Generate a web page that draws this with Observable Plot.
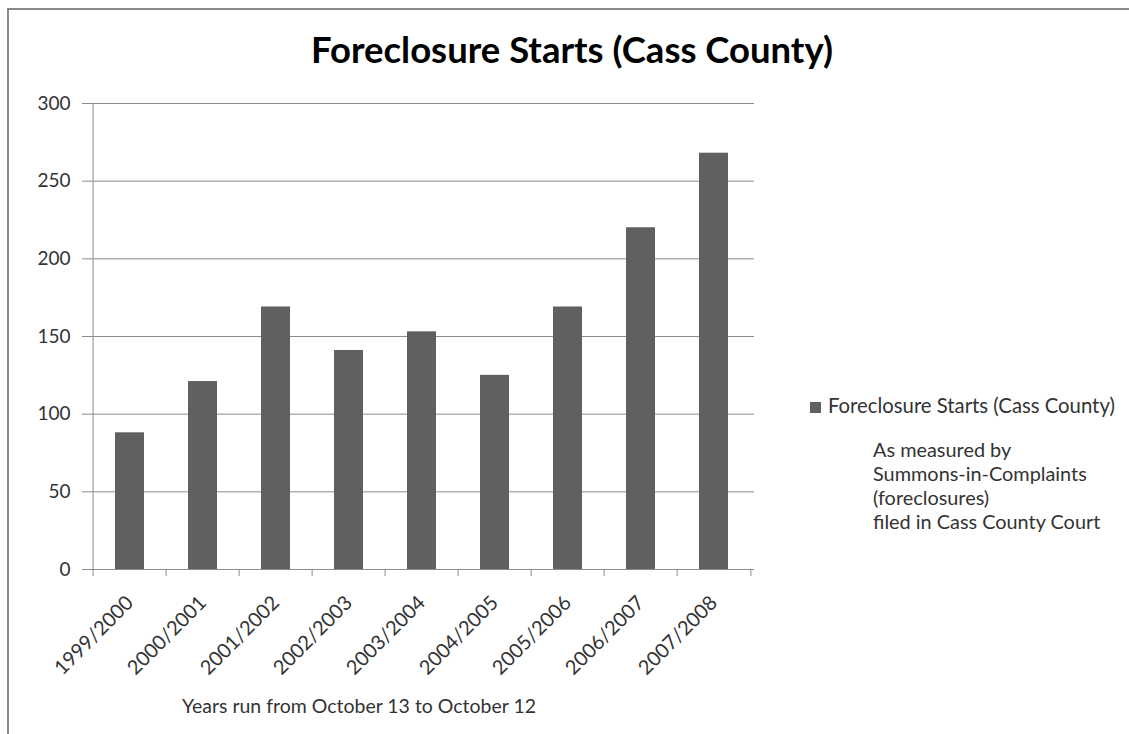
<!DOCTYPE html>
<html>
<head>
<meta charset="utf-8">
<script src="https://cdn.jsdelivr.net/npm/d3@7"></script>
<script src="https://cdn.jsdelivr.net/npm/@observablehq/plot@0.6"></script>
<style>
  html, body { margin: 0; padding: 0; background: #fff; }
  #wrap { position: relative; width: 1129px; height: 734px; overflow: hidden; background: #fff; }
  #border { position: absolute; left: 7px; top: 8px; width: 1300px; height: 900px;
            border-top: 2px solid #8a8a8a; border-left: 2px solid #8a8a8a; box-sizing: border-box; z-index: 3; pointer-events: none; }
  #plot { position: absolute; left: 0; top: 0; z-index: 1; }
  #overlay { position: absolute; left: 0; top: 0; z-index: 2; }
</style>
</head>
<body>
<div id="wrap">
  <div id="plot"></div>
  <svg id="overlay" width="1129" height="734"></svg>
  <div id="border"></div>
</div>
<script>
// ---- data ----
const years = ["1999/2000", "2000/2001", "2001/2002", "2002/2003", "2003/2004",
               "2004/2005", "2005/2006", "2006/2007", "2007/2008"];
const starts = [88, 121, 169, 141, 153, 125, 169, 220, 268];
const yTicks = [0, 50, 100, 150, 200, 250, 300];
const titleText = "Foreclosure Starts (Cass County)";
const legendLabel = "Foreclosure Starts (Cass County)";
const noteLines = ["As measured by", "Summons-in-Complaints", "(foreclosures)", "filed in Cass County Court"];
const captionText = "Years run from October 13 to October 12";

const data = years.map((year, i) => ({year, value: starts[i]}));

// ---- layout ----
const W = 1129, H = 734;
const mL = 90, mR = 375, mT = 103, mB = 165;
const step = (W - mL - mR) / years.length;
const FONT = "Lato, 'Open Sans', sans-serif";
const barColor = "#606060";
const lineColor = "#8c8c8c";
const textColor = "#333";

const chart = Plot.plot({
  width: W, height: H,
  marginLeft: mL, marginRight: mR, marginTop: mT, marginBottom: mB,
  style: {background: "transparent", fontFamily: FONT, overflow: "visible", color: textColor},
  x: {domain: years, paddingInner: 0.6, paddingOuter: 0.3, label: null},
  y: {domain: [0, 300], label: null},
  marks: [
    Plot.gridY(yTicks, {stroke: lineColor, strokeOpacity: 1}),
    Plot.barY(data, {x: "year", y: "value", fill: barColor}),
    Plot.ruleY([0], {stroke: lineColor}),
    Plot.ruleX([years[0]], {y1: 0, y2: 300, dx: -step / 2, stroke: lineColor}),
    Plot.axisY({ticks: yTicks, tickSize: 8, tickPadding: 12, fontSize: 19, stroke: lineColor, fill: textColor, label: null}),
    Plot.axisX({ticks: years, tickSize: 7, dx: -step / 2, text: null, stroke: lineColor, label: null}),
    Plot.axisX({ticks: [years[years.length - 1]], tickSize: 7, dx: step / 2, text: null, stroke: lineColor, label: null}),
    Plot.axisX({tickSize: 0, tickPadding: 30, tickRotate: -45, fontSize: 20, fill: textColor, label: null})
  ]
});
document.getElementById("plot").appendChild(chart);

// ---- text overlay (title, legend, note, caption) ----
const ctx = document.createElement("canvas").getContext("2d");
function fitSize(text, weight, targetWidth) {
  ctx.font = `${weight} 100px Lato`;
  const w = ctx.measureText(text).width;
  return 100 * targetWidth / w;
}
const ov = d3.select("#overlay").style("font-family", FONT);

ov.append("text")
  .attr("x", 572).attr("y", 63)
  .attr("text-anchor", "middle")
  .attr("font-weight", "bold")
  .attr("font-size", fitSize(titleText, "bold", 522))
  .attr("fill", "#000")
  .text(titleText);

ov.append("rect").attr("x", 810).attr("y", 402).attr("width", 11).attr("height", 11).attr("fill", barColor);
ov.append("text")
  .attr("x", 828).attr("y", 413)
  .attr("font-size", fitSize(legendLabel, "normal", 287))
  .attr("fill", textColor)
  .text(legendLabel);

const noteSize = fitSize(noteLines[3], "normal", 228);
ov.append("text")
  .attr("font-size", noteSize)
  .attr("fill", textColor)
  .selectAll("tspan").data(noteLines).join("tspan")
  .attr("x", 873).attr("y", (d, i) => 457 + i * 24)
  .text(d => d);

ov.append("text")
  .attr("x", 182).attr("y", 713)
  .attr("font-size", fitSize(captionText, "normal", 355))
  .attr("fill", textColor)
  .text(captionText);
</script>
</body>
</html>
